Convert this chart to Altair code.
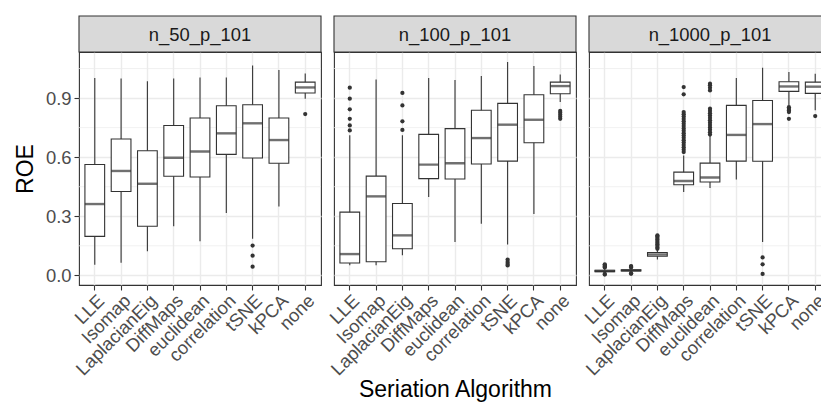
import altair as alt
import pandas as pd

FONT = "Liberation Sans"

methods = ["LLE", "Isomap", "LaplacianEig", "DiffMaps", "euclidean",
           "correlation", "tSNE", "kPCA", "none"]
panels = ["n_50_p_101", "n_100_p_101", "n_1000_p_101"]

whisker_low = {
    "n_50_p_101":   [0.054, 0.064, 0.122, 0.249, 0.173, 0.316, 0.186, 0.349, 0.897],
    "n_100_p_101":  [0.051, 0.051, 0.102, 0.398, 0.169, 0.262, 0.156, 0.311, 0.880],
    "n_1000_p_101": [0.012, 0.014, 0.081, 0.423, 0.443, 0.487, 0.169, 0.863, 0.838],
}
q1 = {
    "n_50_p_101":   [0.198, 0.426, 0.249, 0.503, 0.499, 0.614, 0.596, 0.569, 0.926],
    "n_100_p_101":  [0.063, 0.069, 0.135, 0.491, 0.489, 0.565, 0.580, 0.673, 0.922],
    "n_1000_p_101": [0.019, 0.022, 0.097, 0.460, 0.474, 0.580, 0.579, 0.934, 0.924],
}
median = {
    "n_50_p_101":   [0.362, 0.530, 0.465, 0.597, 0.629, 0.721, 0.772, 0.687, 0.954],
    "n_100_p_101":  [0.108, 0.401, 0.203, 0.562, 0.569, 0.697, 0.765, 0.790, 0.961],
    "n_1000_p_101": [0.022, 0.025, 0.106, 0.479, 0.497, 0.713, 0.768, 0.959, 0.958],
}
q3 = {
    "n_50_p_101":   [0.563, 0.692, 0.633, 0.761, 0.799, 0.861, 0.866, 0.799, 0.981],
    "n_100_p_101":  [0.321, 0.504, 0.365, 0.716, 0.745, 0.838, 0.873, 0.917, 0.981],
    "n_1000_p_101": [0.026, 0.028, 0.116, 0.524, 0.570, 0.863, 0.888, 0.983, 0.981],
}
whisker_high = {
    "n_50_p_101":   [1.002, 1.000, 0.985, 1.000, 1.005, 1.005, 1.066, 1.042, 1.025],
    "n_100_p_101":  [0.711, 0.995, 0.711, 1.002, 0.992, 1.012, 1.083, 1.063, 1.020],
    "n_1000_p_101": [0.036, 0.036, 0.130, 0.609, 0.711, 1.002, 1.054, 1.032, 1.024],
}
outliers = {
    "n_50_p_101": {
        "tSNE": [0.151, 0.100, 0.044],
        "none": [0.819],
    },
    "n_100_p_101": {
        "LLE": [0.953, 0.897, 0.843, 0.795, 0.761, 0.736],
        "LaplacianEig": [0.926, 0.863, 0.782, 0.738],
        "tSNE": [0.080, 0.068, 0.058, 0.050],
        "none": [0.835, 0.825, 0.815, 0.805, 0.795],
    },
    "n_1000_p_101": {
        "LLE": [0.040, 0.044, 0.048, 0.052, 0.056, 0.004, 0.007],
        "Isomap": [0.040, 0.044, 0.047, 0.008, 0.011],
        "LaplacianEig": [0.135, 0.142, 0.150, 0.158, 0.166, 0.174, 0.182,
                         0.190, 0.197, 0.203],
        "DiffMaps": [0.626, 0.638, 0.650, 0.662, 0.674, 0.686, 0.698, 0.710,
                     0.722, 0.734, 0.746, 0.758, 0.770, 0.782, 0.794, 0.806,
                     0.818, 0.829, 0.919, 0.956],
        "euclidean": [0.715, 0.727, 0.739, 0.751, 0.763, 0.775, 0.787, 0.799,
                      0.811, 0.823, 0.835, 0.846, 0.939, 0.952, 0.965, 0.973],
        "tSNE": [0.091, 0.056, 0.007],
        "kPCA": [0.854, 0.845, 0.837, 0.829, 0.795],
        "none": [0.809],
    },
}
y_ticks = [0.0, 0.3, 0.6, 0.9]
y_minor = [0.15, 0.45, 0.75, 1.05]

W, H = 242, 233
STRIP = 36
DARK = "#333333"
TICK_FS = 18.4
TITLE_FS = 23


def make_panel(p, idx):
    box_df = pd.DataFrame({
        "method": methods,
        "low": whisker_low[p],
        "q1": q1[p],
        "med": median[p],
        "q3": q3[p],
        "high": whisker_high[p],
    })
    out_df = pd.DataFrame([{"method": m, "value": v}
                           for m, vs in outliers[p].items() for v in vs])
    minor_df = pd.DataFrame({"v": y_minor})

    xscale = alt.Scale(domain=methods, paddingInner=0.25, paddingOuter=0.225)
    yscale = alt.Scale(domain=[-0.049, 1.134], nice=False, zero=False)

    xaxis = alt.Axis(
        title="Seriation Algorithm" if idx == 1 else None,
        labelAngle=-45, labelAlign="right", labelBaseline="top",
        labelPadding=1, bandPosition=0.5, grid=True, titlePadding=0,
    )
    if idx == 0:
        yaxis = alt.Axis(values=y_ticks, format=".1f", title="ROE",
                         grid=True, labelPadding=3, titlePadding=8)
    else:
        yaxis = alt.Axis(values=y_ticks, labels=False, ticks=False,
                         title=None, grid=True)

    X = alt.X("method:N", scale=xscale, axis=xaxis, sort=methods)

    minor = alt.Chart(minor_df).mark_rule(color="#EBEBEB", strokeWidth=0.7).encode(
        y=alt.Y("v:Q", scale=yscale, axis=yaxis)
    )
    base = alt.Chart(box_df)
    whisk = base.mark_rule(color=DARK, strokeWidth=1.1).encode(
        x=X, y=alt.Y("low:Q", scale=yscale, axis=yaxis), y2="high:Q"
    )
    box = base.mark_bar(fill="white", stroke=DARK, strokeWidth=1.1).encode(
        x=X, y=alt.Y("q1:Q", scale=yscale, axis=yaxis), y2="q3:Q"
    )
    med = base.mark_tick(color=DARK, thickness=2.4, size=0.75 * W / 9.2).encode(
        x=X, y=alt.Y("med:Q", scale=yscale, axis=yaxis)
    )
    pts = alt.Chart(out_df).mark_circle(color=DARK, size=18, opacity=1).encode(
        x=X, y=alt.Y("value:Q", scale=yscale, axis=yaxis)
    )
    strip_df = pd.DataFrame({"panel": [p]})
    strip = alt.Chart(strip_df).mark_rect(
        fill="#D9D9D9", stroke=DARK, strokeWidth=1.1
    ).encode(
        x=alt.value(0), x2=alt.value(W), y=alt.value(-STRIP), y2=alt.value(0)
    )
    strip_txt = alt.Chart(strip_df).mark_text(
        font=FONT, fontSize=TICK_FS, color="#1A1A1A", baseline="middle", align="center"
    ).encode(
        x=alt.value(W / 2), y=alt.value(-STRIP / 2 + 1), text="panel:N"
    )
    return alt.layer(minor, whisk, box, med, pts, strip, strip_txt).properties(
        width=W, height=H
    )


chart = alt.hconcat(
    *[make_panel(p, i) for i, p in enumerate(panels)],
    spacing=13, bounds="flush",
).properties(
    padding={"left": 13, "top": 14, "right": -12, "bottom": 5},
    background="white",
).configure_view(
    stroke=DARK, strokeWidth=1.1
).configure_axis(
    domain=False, gridColor="#EBEBEB", gridWidth=1.4,
    tickColor=DARK, tickWidth=1.1, tickSize=5,
    labelFont=FONT, titleFont=FONT, labelColor="#4D4D4D", labelFontSize=TICK_FS,
    titleFontSize=TITLE_FS, titleFontWeight="normal", titleColor="black",
)

chart.save("out.html", embed_options={"renderer": "svg", "actions": False})
